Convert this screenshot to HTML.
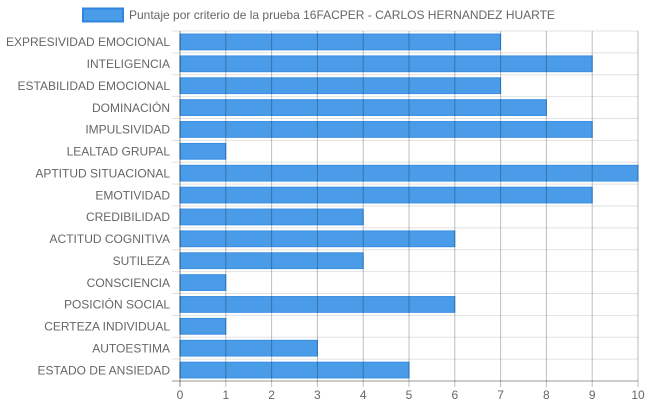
<!DOCTYPE html>
<html><head><meta charset="utf-8"><style>
body{margin:0;background:#fff;}
svg{display:block;font-family:"Liberation Sans",Arial,sans-serif;}
</style></head><body>
<svg id="chart" width="648" height="410">
<g id="legend">
<rect x="83" y="8.5" width="40" height="13" fill="#4a9be8" stroke="#2f86e0" stroke-width="2"/>
<text x="129" y="19" font-size="12" fill="#666">Puntaje por criterio de la prueba 16FACPER - CARLOS HERNANDEZ HUARTE</text>
</g>
<g id="grid"></g><g id="bars"></g><g id="vgrid"></g><g id="ylabels"></g><g id="xlabels"></g>
</svg>
<script>
const categories=["EXPRESIVIDAD EMOCIONAL","INTELIGENCIA","ESTABILIDAD EMOCIONAL","DOMINACIÓN","IMPULSIVIDAD","LEALTAD GRUPAL","APTITUD SITUACIONAL","EMOTIVIDAD","CREDIBILIDAD","ACTITUD COGNITIVA","SUTILEZA","CONSCIENCIA","POSICIÓN SOCIAL","CERTEZA INDIVIDUAL","AUTOESTIMA","ESTADO DE ANSIEDAD"];
const values=[7,9,7,8,9,1,10,9,4,6,4,1,6,1,3,5];
const xTicks=[0,1,2,3,4,5,6,7,8,9,10];
const NS="http://www.w3.org/2000/svg";
const L=180,R=638,T=31,B=381,xMax=10;
const band=(B-T)/categories.length;
function xs(v){return L+(R-L)*v/xMax;}
function yc(i){return T+band*(i+0.5);}
function mk(p,tag,a){const e=document.createElementNS(NS,tag);for(const k in a)e.setAttribute(k,a[k]);document.getElementById(p).appendChild(e);return e;}
for(let i=0;i<=categories.length;i++){
  const y=T+band*i;
  const l=mk('grid','line',{x1:172,x2:R,y1:y,y2:y,stroke:i==categories.length?'#999':'#e2e2e2','stroke-width':1});
  
  
}
categories.forEach((c,i)=>{
  const r=mk('bars','rect',{x:xs(0),y:yc(i)-7.9,width:xs(values[i])-xs(0),height:15.8,fill:'#4a9be8',stroke:'#3a8fe4','stroke-width':1});
  
  
  const t=mk('ylabels','text',{x:170,y:yc(i)+4.3,'text-anchor':'end','font-size':12,fill:'#666'});
  t.textContent=c;
  
  
});
xTicks.forEach(v=>{
  const x=xs(v);
  const l=mk('vgrid','line',{x1:x,x2:x,y1:T,y2:B+6,stroke:v==0?'rgba(0,0,0,0.45)':'rgba(0,0,0,0.25)','stroke-width':1});
  
  
  const t=mk('xlabels','text',{x:x,y:399,'text-anchor':'middle','font-size':12,fill:'#666'});
  t.textContent=v;
  
  
});
</script>
</body></html>
